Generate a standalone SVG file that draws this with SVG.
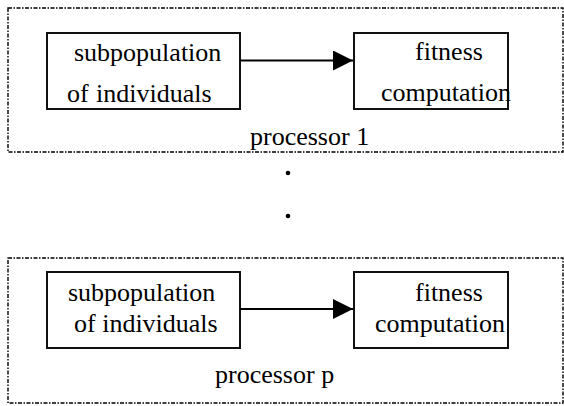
<svg xmlns="http://www.w3.org/2000/svg" width="564" height="406" viewBox="0 0 564 406">
  <style>
    .frame { fill: none; stroke: #000; stroke-width: 1.4; stroke-dasharray: 4 1.5 1.5 1.5; }
    .box { fill: #fff; stroke: #111; stroke-width: 2; }
    .edge { fill: none; stroke: #000; stroke-width: 1.8; }
    .lbl { font-family: 'Liberation Serif', 'DejaVu Serif', serif; font-size: 26px; fill: #000; }
  </style>
  <defs>
    <marker id="arrow" viewBox="0 0 20 20" refX="20" refY="10" markerWidth="20" markerHeight="20" markerUnits="userSpaceOnUse" orient="auto">
      <path d="M0,0 L20,10 L0,20 Z" fill="#000"/>
    </marker>
  </defs>

  <!-- processor 1 -->
  <g id="processor1">
    <rect class="frame" x="8" y="8" width="555" height="144"/>
    <text class="lbl" x="250" y="145">processor 1</text>
  </g>
  <g id="subpop1">
    <rect class="box" x="47" y="33" width="193" height="76"/>
    <text class="lbl" x="74" y="61">subpopulation</text>
    <text class="lbl" x="67" y="102">of<tspan x="96">individuals</tspan></text>
  </g>
  <g id="fitness1">
    <rect class="box" x="354" y="33" width="154" height="76"/>
    <text class="lbl" x="415" y="60">fitness</text>
    <text class="lbl" x="381" y="101">computation</text>
  </g>

  <!-- ellipsis between processors -->
  <g id="ellipsis">
    <circle cx="288" cy="173" r="2.3" fill="#000"/>
    <circle cx="288" cy="216" r="2.3" fill="#000"/>
  </g>

  <!-- processor p -->
  <g id="processorP">
    <rect class="frame" x="8" y="258" width="555" height="145"/>
    <text class="lbl" x="215" y="383">processor p</text>
  </g>
  <g id="subpopP">
    <rect class="box" x="47" y="272" width="193" height="76"/>
    <text class="lbl" x="68" y="301">subpopulation</text>
    <text class="lbl" x="74" y="332">of individuals</text>
  </g>
  <g id="fitnessP">
    <rect class="box" x="354" y="272" width="154" height="76"/>
    <text class="lbl" x="415" y="301">fitness</text>
    <text class="lbl" x="375" y="332">computation</text>
  </g>

  <g id="connectors">
    <line class="edge" x1="240" y1="60.5" x2="353" y2="60.5" marker-end="url(#arrow)"/>
    <line class="edge" x1="240" y1="309" x2="353" y2="309" marker-end="url(#arrow)"/>
  </g>
</svg>
